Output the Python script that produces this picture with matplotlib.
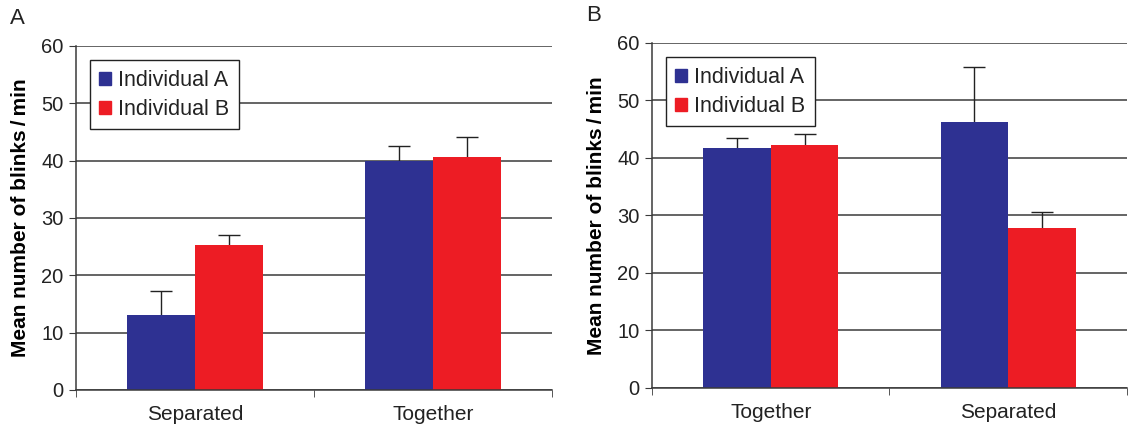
import numpy as np
import matplotlib.pyplot as plt
from matplotlib.patches import Patch

plt.rcParams['font.family'] = ['Liberation Sans', 'DejaVu Sans']

# panel A
cats_a = ['Separated', 'Together']
a_ind_a = [13.0, 40.0]
a_err_a = [4.3, 2.5]
a_ind_b = [25.3, 40.7]
a_err_b = [1.8, 3.4]

# panel B
cats_b = ['Together', 'Separated']
b_ind_a = [41.8, 46.3]
b_err_a = [1.6, 9.5]
b_ind_b = [42.3, 27.9]
b_err_b = [1.8, 2.7]

blue = '#2E3192'
red = '#ED1C24'
grid_col = '#3a3a3a'
txt_col = '#222222'

fig = plt.figure(figsize=(11.29, 4.25), dpi=100)
ax1 = fig.add_axes([0.0673, 0.0824, 0.4216, 0.8094])
ax2 = fig.add_axes([0.5775, 0.0871, 0.4207, 0.8118])


def panel(ax, cats, va, ea, vb, eb, letter):
    x = np.arange(len(cats))
    w = 0.285
    ax.set_axisbelow(True)
    ax.yaxis.grid(True, color=grid_col, linewidth=1.1)
    ax.bar(x - w / 2, va, w, color=blue, zorder=2)
    ax.bar(x + w / 2, vb, w, color=red, zorder=2)
    # symmetric bars drawn behind the columns, so only the upper half shows
    ax.errorbar(x - w / 2, va, yerr=ea, fmt='none', ecolor=txt_col,
                elinewidth=1.0, capsize=8, capthick=1.0, zorder=1.5)
    ax.errorbar(x + w / 2, vb, yerr=eb, fmt='none', ecolor=txt_col,
                elinewidth=1.0, capsize=8, capthick=1.0, zorder=1.5)
    ax.set_xlim(-0.5, len(cats) - 0.5)
    ax.set_ylim(0, 60)
    ax.set_yticks(np.arange(0, 61, 10))
    ax.set_xticks(x)
    ax.set_xticklabels(cats, fontsize=15, color=txt_col)
    ax.set_xticks(np.arange(-0.5, len(cats), 1), minor=True)
    ax.tick_params(axis='x', which='major', length=0, pad=11)
    ax.tick_params(axis='x', which='minor', length=5, color=grid_col, direction='out')
    ax.tick_params(axis='y', length=5, color=grid_col, labelsize=14.5,
                   labelcolor=txt_col, pad=4)
    for s in ['top', 'right']:
        ax.spines[s].set_visible(False)
    for s in ['left', 'bottom']:
        ax.spines[s].set_color(grid_col)
        ax.spines[s].set_linewidth(1.1)
    ax.set_ylabel('Mean number of blinks\u2009/\u2009min', fontsize=15,
                  fontweight='bold', labelpad=8)
    handles = [Patch(color=blue, label='Individual A'),
               Patch(color=red, label='Individual B')]
    leg = ax.legend(handles=handles, loc='upper left', bbox_to_anchor=(0.029, 0.958),
                    borderaxespad=0, fontsize=15.5, fancybox=False, framealpha=1,
                    edgecolor=txt_col, handlelength=0.55, handleheight=0.55,
                    handletextpad=0.3, borderpad=0.45, labelspacing=0.35)
    leg.get_frame().set_linewidth(1.0)
    for t in leg.get_texts():
        t.set_color(txt_col)
    ax.text(-0.139, 1.08, letter, transform=ax.transAxes, fontsize=16,
            va='center', ha='left', color=txt_col)


panel(ax1, cats_a, a_ind_a, a_err_a, a_ind_b, a_err_b, 'A')
panel(ax2, cats_b, b_ind_a, b_err_a, b_ind_b, b_err_b, 'B')

fig.savefig('out.png', dpi=100)
